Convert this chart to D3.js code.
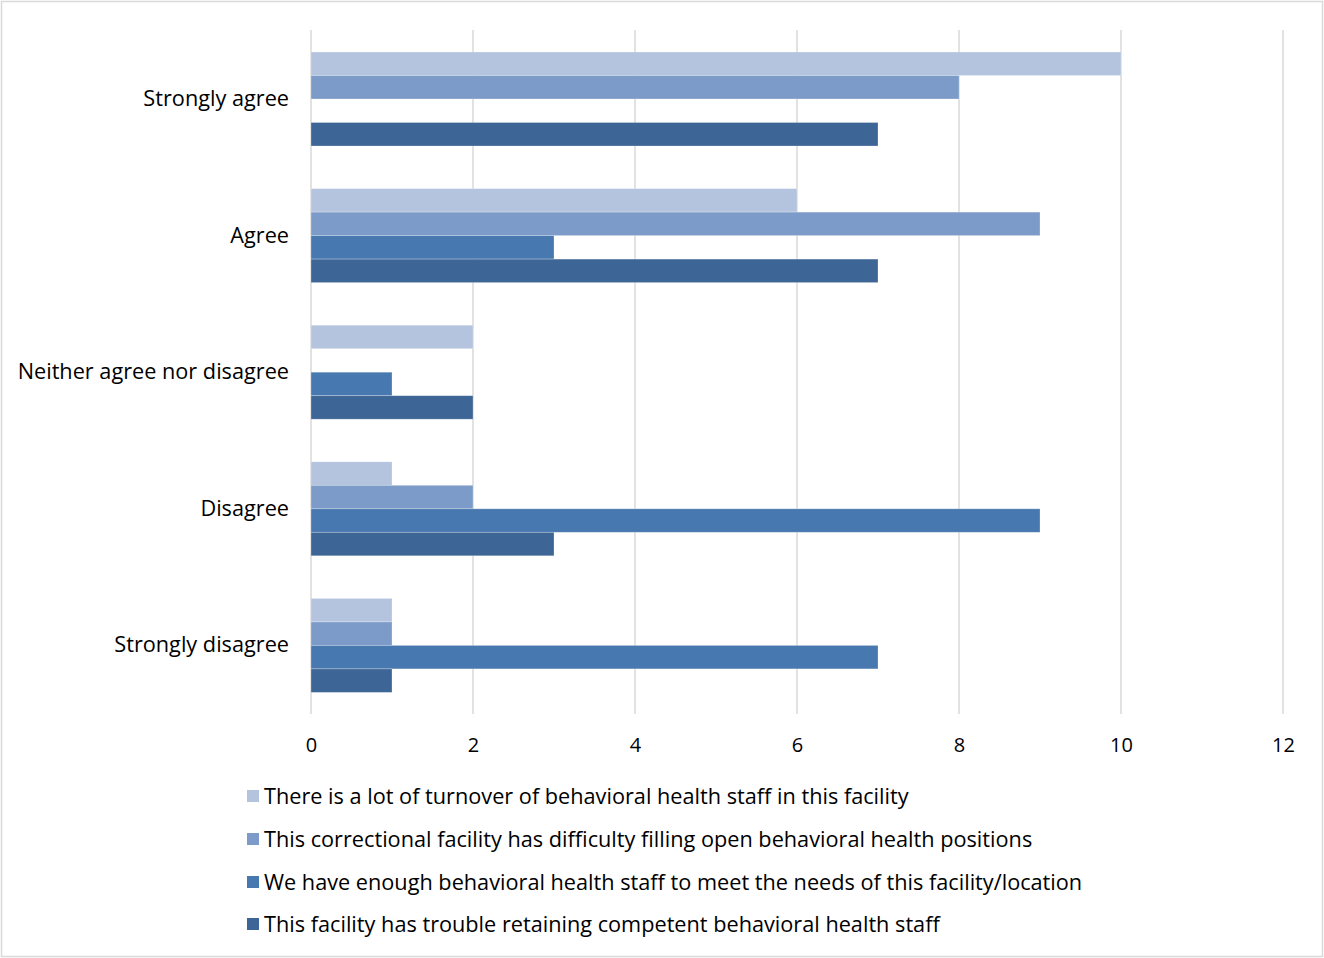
<!DOCTYPE html>
<html>
<head>
<meta charset="utf-8">
<script src="https://cdn.jsdelivr.net/npm/d3@7"></script>
<style>
  body { margin: 0; background: #fff; }
  text { font-family: "Open Sans", "Liberation Sans", sans-serif; fill: #000; }
</style>
</head>
<body>
<div id="chart"></div>
<script>
const width = 1324;
const height = 958;

const categories = ['Strongly agree', 'Agree', 'Neither agree nor disagree', 'Disagree', 'Strongly disagree'];
const seriesNames = [
  'There is a lot of turnover of behavioral health staff in this facility',
  'This correctional facility has difficulty filling open behavioral health positions',
  'We have enough behavioral health staff to meet the needs of this facility/location',
  'This facility has trouble retaining competent behavioral health staff'
];
const turnover   = [10, 6, 2, 1, 1];
const filling    = [8, 9, 0, 2, 1];
const enough     = [0, 3, 1, 9, 7];
const retaining  = [7, 7, 2, 3, 1];
const xTicks = [0, 2, 4, 6, 8, 10, 12];

const colors = ['#b4c3de', '#7d9bc8', '#4878b0', '#3d6595'];
const seriesValues = [turnover, filling, enough, retaining];

const svg = d3.select('#chart')
  .append('svg')
  .attr('width', width)
  .attr('height', height);

// frame
svg.append('rect')
  .attr('x', 1.5).attr('y', 1.5)
  .attr('width', width - 3).attr('height', height - 3)
  .attr('fill', 'none')
  .attr('stroke', '#d9d9d9')
  .attr('stroke-width', 1.5);

const xScale = d3.scaleLinear().domain([0, 12]).range([311, 1283]);

const yScale = d3.scaleBand()
  .domain(categories)
  .range([30.7, 713.7])
  .paddingInner(0.312)
  .paddingOuter(0.156);

const ySub = d3.scaleBand()
  .domain(d3.range(seriesNames.length))
  .range([0, yScale.bandwidth()]);

// gridlines
svg.append('g')
  .selectAll('line')
  .data(xTicks)
  .join('line')
  .attr('x1', d => xScale(d)).attr('x2', d => xScale(d))
  .attr('y1', 30).attr('y2', 714)
  .attr('stroke', '#d9d9d9')
  .attr('stroke-width', 1.5);

// bars
const rows = [];
categories.forEach((c, i) => {
  seriesValues.forEach((vals, s) => rows.push({cat: c, s: s, v: vals[i]}));
});

svg.append('g')
  .selectAll('rect')
  .data(rows.filter(d => d.v > 0))
  .join('rect')
  .attr('x', xScale(0))
  .attr('y', d => yScale(d.cat) + ySub(d.s))
  .attr('width', d => xScale(d.v) - xScale(0))
  .attr('height', ySub.bandwidth())
  .attr('fill', d => colors[d.s])
  .attr('stroke', 'rgba(255,255,255,0.35)')
  .attr('stroke-width', 0.75);

// x axis labels
const xAxis = d3.axisBottom(xScale).tickValues(xTicks).tickSize(0).tickPadding(0);
const gx = svg.append('g')
  .attr('transform', 'translate(0,745)')
  .call(xAxis);
gx.select('.domain').remove();
gx.selectAll('text')
  .attr('dy', '0.35em')
  .style('font-size', '20px')
  .style('font-family', '"Open Sans", sans-serif')
  .attr('fill', '#000');

// y axis labels
const yAxis = d3.axisLeft(yScale).tickSize(0).tickPadding(0);
const gy = svg.append('g')
  .attr('transform', 'translate(289,0)')
  .call(yAxis);
gy.select('.domain').remove();
gy.selectAll('text')
  .style('font-size', '21.7px')
  .style('font-family', '"Open Sans", sans-serif')
  .attr('fill', '#000');

// legend
const legendY = [796, 839, 882, 924];
const legend = svg.append('g');
seriesNames.forEach((name, i) => {
  const g = legend.append('g').attr('transform', `translate(247,${legendY[i]})`);
  g.append('rect')
    .attr('x', 0).attr('y', -6)
    .attr('width', 12).attr('height', 12)
    .attr('fill', colors[i]);
  g.append('text')
    .attr('x', 17)
    .attr('dy', '0.35em')
    .style('font-size', '21.7px')
    .text(name);
});
</script>
</body>
</html>
